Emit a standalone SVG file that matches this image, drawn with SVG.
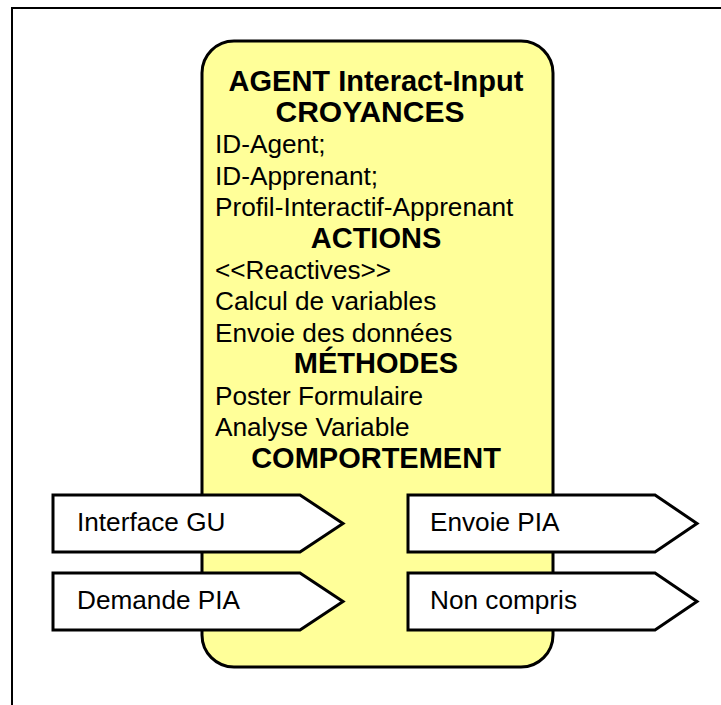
<svg xmlns="http://www.w3.org/2000/svg" width="721" height="705" viewBox="0 0 721 705">
  <style>
    .frame { fill: #ffffff; stroke: #000000; stroke-width: 2; }
    .body { fill: #ffff99; stroke: #000000; stroke-width: 3; }
    .tag { fill: #ffffff; stroke: #000000; stroke-width: 3; stroke-linejoin: miter; }
    text { font-family: "Liberation Sans", Arial, sans-serif; fill: #000000; }
    .head { font-size: 29px; font-weight: bold; text-anchor: middle; }
    .item { font-size: 26.2px; }
  </style>

  <!-- outer frame -->
  <rect class="frame" x="12" y="8" width="730" height="720"/>

  <!-- agent body with its sections -->
  <g id="agent">
    <rect class="body" x="202" y="41" width="351" height="626" rx="32" ry="32"/>
    <text class="head" x="376" y="91">AGENT Interact-Input</text>
    <text class="head" x="370" y="122" style="font-size:30px">CROYANCES</text>
    <text class="item" x="215" y="153">ID-Agent;</text>
    <text class="item" x="215" y="185">ID-Apprenant;</text>
    <text class="item" x="215" y="216">Profil-Interactif-Apprenant</text>
    <text class="head" x="376" y="248">ACTIONS</text>
    <text class="item" x="215" y="279">&lt;&lt;Reactives&gt;&gt;</text>
    <text class="item" x="215" y="310">Calcul de variables</text>
    <text class="item" x="215" y="342">Envoie des données</text>
    <text class="head" x="376" y="373">MÉTHODES</text>
    <text class="item" x="215" y="405">Poster Formulaire</text>
    <text class="item" x="215" y="436">Analyse Variable</text>
    <text class="head" x="376" y="468">COMPORTEMENT</text>
  </g>

  <!-- behaviour tags -->
  <g id="interface-gu">
    <polygon class="tag" points="53,495 300,495 343,523.5 300,552 53,552"/>
    <text class="item" x="77" y="531">Interface GU</text>
  </g>
  <g id="demande-pia">
    <polygon class="tag" points="53,573 300,573 343,601.5 300,630 53,630"/>
    <text class="item" x="77" y="609">Demande PIA</text>
  </g>
  <g id="envoie-pia">
    <polygon class="tag" points="408,495 655,495 697,523.5 655,552 408,552"/>
    <text class="item" x="430" y="531">Envoie PIA</text>
  </g>
  <g id="non-compris">
    <polygon class="tag" points="408,573 655,573 697,601.5 655,630 408,630"/>
    <text class="item" x="430" y="609">Non compris</text>
  </g>
</svg>
